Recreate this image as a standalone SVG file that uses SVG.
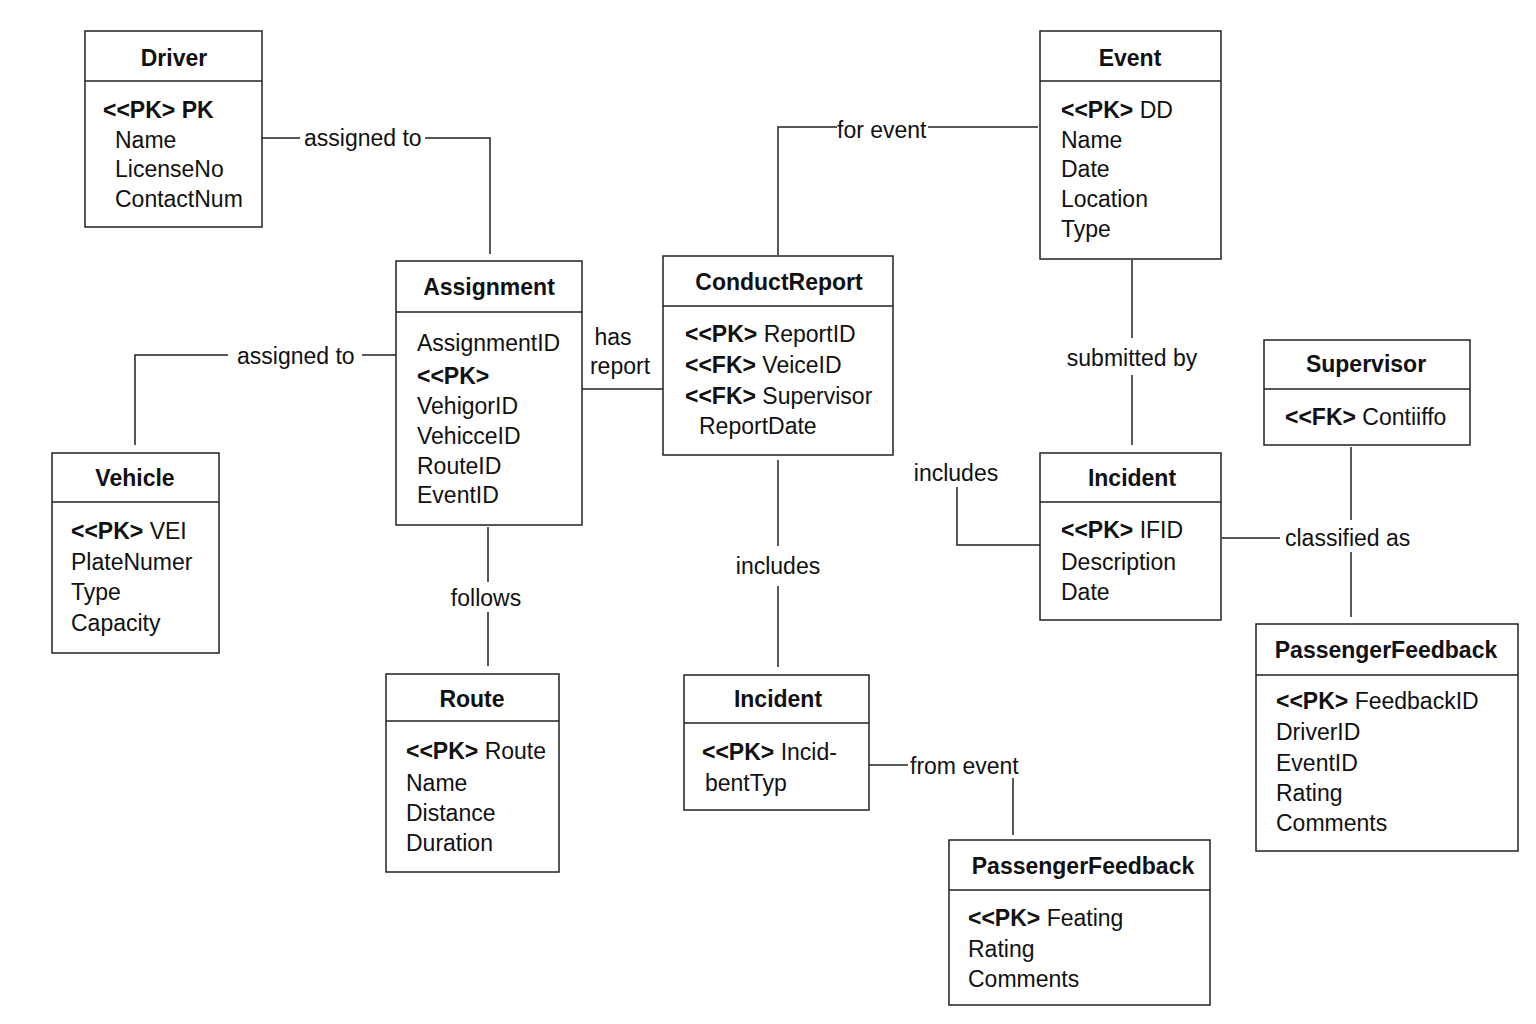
<svg xmlns="http://www.w3.org/2000/svg" width="1536" height="1024" viewBox="0 0 1536 1024">
<style>
.box{fill:#fff;stroke:#222;stroke-width:1.5}
.t{font-family:"Liberation Sans",Arial,sans-serif;font-size:23px;fill:#111}
.h{font-weight:bold;text-anchor:middle}
.b{font-weight:bold}
.c{fill:none;stroke:#222;stroke-width:1.5}
.m{text-anchor:middle}
</style>
<rect width="1536" height="1024" fill="#fff"/>
<g id="connectors">
<polyline class="c" points="262,138 300,138"/><polyline class="c" points="425,138 490,138 490,254"/>
<polyline class="c" points="135,445 135,355 228,355"/><polyline class="c" points="362,355 396,355"/>
<polyline class="c" points="582,389 663,389"/>
<polyline class="c" points="488,527 488,582"/><polyline class="c" points="488,612 488,666"/>
<polyline class="c" points="778,255 778,127 837,127"/><polyline class="c" points="928,127 1038,127"/>
<polyline class="c" points="778,460 778,546"/><polyline class="c" points="778,586 778,667"/>
<polyline class="c" points="1132,260 1132,338"/><polyline class="c" points="1132,375 1132,445"/>
<polyline class="c" points="1040,545 957,545 957,487"/>
<polyline class="c" points="1222,538 1280,538"/>
<polyline class="c" points="1351,447 1351,520"/><polyline class="c" points="1351,552 1351,617"/>
<polyline class="c" points="869,765 908,765"/><polyline class="c" points="1013,778 1013,835"/>
<text class="t" x="304" y="146">assigned to</text>
<text class="t" x="237" y="364">assigned to</text>
<text class="t" x="613" y="345" text-anchor="middle">has</text>
<text class="t" x="620" y="374" text-anchor="middle">report</text>
<text class="t m" x="486" y="606">follows</text>
<text class="t" x="837" y="138">for event</text>
<text class="t m" x="778" y="574">includes</text>
<text class="t m" x="1132" y="366">submitted by</text>
<text class="t m" x="956" y="481">includes</text>
<text class="t" x="1285" y="546">classified as</text>
<text class="t" x="910" y="774">from event</text>
</g>
<g id="driver"><rect class="box" x="85" y="31" width="177" height="196"/><line class="c" x1="85" y1="81" x2="262" y2="81"/>
<text class="t h" x="174" y="66">Driver</text><text class="t b" x="103" y="118">&lt;&lt;PK&gt; PK</text>
<text class="t" x="115" y="148">Name</text><text class="t" x="115" y="177">LicenseNo</text><text class="t" x="115" y="207">ContactNum</text></g>
<g id="assignment"><rect class="box" x="396" y="261" width="186" height="264"/><line class="c" x1="396" y1="312" x2="582" y2="312"/>
<text class="t h" x="489" y="295">Assignment</text><text class="t" x="417" y="351">AssignmentID</text>
<text class="t b" x="417" y="384">&lt;&lt;PK&gt;</text><text class="t" x="417" y="414">VehigorID</text>
<text class="t" x="417" y="444">VehicceID</text><text class="t" x="417" y="474">RouteID</text><text class="t" x="417" y="503">EventID</text></g>
<g id="conductreport"><rect class="box" x="663" y="256" width="230" height="199"/><line class="c" x1="663" y1="306" x2="893" y2="306"/>
<text class="t h" x="779" y="290">ConductReport</text>
<text class="t" x="685" y="342"><tspan class="b">&lt;&lt;PK&gt;</tspan> ReportID</text>
<text class="t" x="685" y="373"><tspan class="b">&lt;&lt;FK&gt;</tspan> VeiceID</text>
<text class="t" x="685" y="404"><tspan class="b">&lt;&lt;FK&gt;</tspan> Supervisor</text>
<text class="t" x="699" y="434">ReportDate</text></g>
<g id="event"><rect class="box" x="1040" y="31" width="181" height="228"/><line class="c" x1="1040" y1="81" x2="1221" y2="81"/>
<text class="t h" x="1130" y="66">Event</text>
<text class="t" x="1061" y="118"><tspan class="b">&lt;&lt;PK&gt;</tspan> DD</text>
<text class="t" x="1061" y="148">Name</text><text class="t" x="1061" y="177">Date</text><text class="t" x="1061" y="207">Location</text><text class="t" x="1061" y="237">Type</text></g>
<g id="supervisor"><rect class="box" x="1264" y="340" width="206" height="105"/><line class="c" x1="1264" y1="389" x2="1470" y2="389"/>
<text class="t h" x="1366" y="372">Supervisor</text>
<text class="t" x="1285" y="425"><tspan class="b">&lt;&lt;FK&gt;</tspan> Contiiffo</text></g>
<g id="vehicle"><rect class="box" x="52" y="453" width="167" height="200"/><line class="c" x1="52" y1="502" x2="219" y2="502"/>
<text class="t h" x="135" y="486">Vehicle</text>
<text class="t" x="71" y="539"><tspan class="b">&lt;&lt;PK&gt;</tspan> VEI</text>
<text class="t" x="71" y="570">PlateNumer</text><text class="t" x="71" y="600">Type</text><text class="t" x="71" y="631">Capacity</text></g>
<g id="incident1"><rect class="box" x="1040" y="453" width="181" height="167"/><line class="c" x1="1040" y1="502" x2="1221" y2="502"/>
<text class="t h" x="1132" y="486">Incident</text>
<text class="t" x="1061" y="538"><tspan class="b">&lt;&lt;PK&gt;</tspan> IFID</text>
<text class="t" x="1061" y="570">Description</text><text class="t" x="1061" y="600">Date</text></g>
<g id="route"><rect class="box" x="386" y="674" width="173" height="198"/><line class="c" x1="386" y1="721" x2="559" y2="721"/>
<text class="t h" x="472" y="707">Route</text>
<text class="t" x="406" y="759"><tspan class="b">&lt;&lt;PK&gt;</tspan> Route</text>
<text class="t" x="406" y="791">Name</text><text class="t" x="406" y="821">Distance</text><text class="t" x="406" y="851">Duration</text></g>
<g id="incident2"><rect class="box" x="684" y="675" width="185" height="135"/><line class="c" x1="684" y1="723" x2="869" y2="723"/>
<text class="t h" x="778" y="707">Incident</text>
<text class="t" x="702" y="760"><tspan class="b">&lt;&lt;PK&gt;</tspan> Incid-</text>
<text class="t" x="705" y="791">bentTyp</text></g>
<g id="feedback1"><rect class="box" x="1256" y="624" width="262" height="227"/><line class="c" x1="1256" y1="675" x2="1518" y2="675"/>
<text class="t h" x="1386" y="658">PassengerFeedback</text>
<text class="t" x="1276" y="709"><tspan class="b">&lt;&lt;PK&gt;</tspan> FeedbackID</text>
<text class="t" x="1276" y="740">DriverID</text><text class="t" x="1276" y="771">EventID</text><text class="t" x="1276" y="801">Rating</text><text class="t" x="1276" y="831">Comments</text></g>
<g id="feedback2"><rect class="box" x="949" y="840" width="261" height="165"/><line class="c" x1="949" y1="890" x2="1210" y2="890"/>
<text class="t h" x="1083" y="874">PassengerFeedback</text>
<text class="t" x="968" y="926"><tspan class="b">&lt;&lt;PK&gt;</tspan> Feating</text>
<text class="t" x="968" y="957">Rating</text><text class="t" x="968" y="987">Comments</text></g>
</svg>
